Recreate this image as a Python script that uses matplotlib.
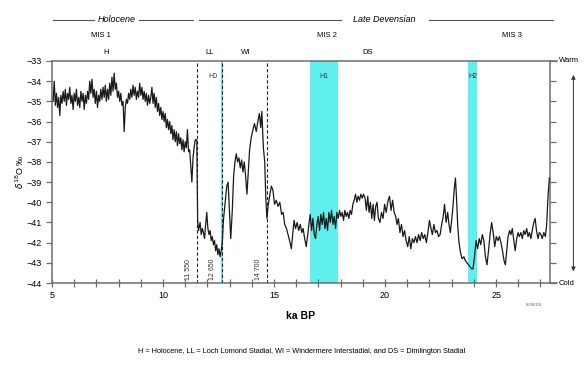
import matplotlib
matplotlib.use("Agg")
import matplotlib.pyplot as plt
import matplotlib.transforms as mtransforms

plt.rcParams['font.family'] = ['Liberation Sans', 'DejaVu Sans']

# ice-core isotope record
age_ka = [
    5.05, 5.10, 5.15, 5.20, 5.25, 5.30, 5.35, 5.40, 5.45, 5.50, 5.55, 5.60, 5.65, 5.70, 5.75, 5.80,
    5.85, 5.90, 5.95, 6.00, 6.05, 6.10, 6.15, 6.20, 6.25, 6.30, 6.35, 6.40, 6.45, 6.50, 6.55, 6.60,
    6.65, 6.70, 6.75, 6.80, 6.85, 6.90, 6.95, 7.00, 7.05, 7.10, 7.15, 7.20, 7.25, 7.30, 7.35, 7.40,
    7.45, 7.50, 7.55, 7.60, 7.65, 7.70, 7.75, 7.80, 7.85, 7.90, 7.95, 8.00, 8.05, 8.10, 8.15, 8.20,
    8.25, 8.30, 8.35, 8.40, 8.45, 8.50, 8.55, 8.60, 8.65, 8.70, 8.75, 8.80, 8.85, 8.90, 8.95, 9.00,
    9.05, 9.10, 9.15, 9.20, 9.25, 9.30, 9.35, 9.40, 9.45, 9.50, 9.55, 9.60, 9.65, 9.70, 9.75, 9.80,
    9.85, 9.90, 9.95, 10.00, 10.05, 10.10, 10.15, 10.20, 10.25, 10.30, 10.35, 10.40, 10.45, 10.50,
    10.55, 10.60, 10.65, 10.70, 10.75, 10.80, 10.85, 10.90, 10.95, 11.00, 11.05, 11.10, 11.15, 11.20,
    11.25, 11.30, 11.35, 11.40, 11.45, 11.52, 11.56, 11.60, 11.67, 11.72, 11.77, 11.82, 11.87, 11.92,
    11.97, 12.02, 12.07, 12.12, 12.17, 12.22, 12.27, 12.32, 12.37, 12.42, 12.47, 12.52, 12.57, 12.62,
    12.67, 12.72, 12.80, 12.87, 12.93, 12.99, 13.05, 13.12, 13.18, 13.24, 13.30, 13.36, 13.42, 13.48,
    13.54, 13.60, 13.66, 13.72, 13.78, 13.84, 13.90, 13.97, 14.05, 14.12, 14.20, 14.27, 14.34, 14.40,
    14.45, 14.52, 14.58, 14.63, 14.68, 14.73, 14.80, 14.88, 14.95, 15.02, 15.10, 15.18, 15.26, 15.34,
    15.41, 15.48, 15.56, 15.63, 15.70, 15.78, 15.84, 15.90, 15.97, 16.04, 16.11, 16.18, 16.25, 16.31,
    16.38, 16.45, 16.52, 16.58, 16.63, 16.69, 16.75, 16.81, 16.87, 16.93, 16.99, 17.05, 17.11, 17.17,
    17.23, 17.29, 17.35, 17.41, 17.47, 17.53, 17.59, 17.65, 17.71, 17.77, 17.83, 17.89, 17.95, 18.01,
    18.07, 18.13, 18.19, 18.25, 18.31, 18.37, 18.43, 18.49, 18.55, 18.61, 18.67, 18.73, 18.79, 18.85,
    18.91, 18.97, 19.03, 19.10, 19.16, 19.22, 19.28, 19.34, 19.40, 19.46, 19.52, 19.58, 19.64, 19.70,
    19.77, 19.84, 19.91, 19.98, 20.05, 20.12, 20.20, 20.27, 20.34, 20.41, 20.48, 20.54, 20.60, 20.67,
    20.74, 20.81, 20.88, 20.95, 21.02, 21.09, 21.16, 21.23, 21.30, 21.37, 21.44, 21.51, 21.58, 21.65,
    21.72, 21.79, 21.86, 21.93, 22.00, 22.07, 22.13, 22.20, 22.27, 22.34, 22.41, 22.48, 22.55, 22.62,
    22.68, 22.75, 22.82, 22.88, 22.94, 23.00, 23.06, 23.12, 23.17, 23.22, 23.27, 23.33, 23.40, 23.47,
    23.55, 23.62, 23.69, 23.76, 23.83, 23.90, 23.96, 24.03, 24.10, 24.17, 24.24, 24.31, 24.38, 24.45,
    24.52, 24.59, 24.66, 24.73, 24.80, 24.87, 24.94, 25.01, 25.08, 25.15, 25.22, 25.29, 25.36, 25.42,
    25.48, 25.54, 25.61, 25.67, 25.73, 25.80, 25.86, 25.93, 25.99, 26.05, 26.12, 26.18, 26.25, 26.31,
    26.38, 26.44, 26.50, 26.57, 26.63, 26.70, 26.76, 26.82, 26.89, 26.95, 27.02, 27.08, 27.15, 27.22,
    27.28, 27.34, 27.40,
]
d18o = [
    -35.0, -34.0, -35.2, -34.6, -35.3, -34.8, -35.7, -34.7, -35.1, -34.5, -35.0, -34.4, -35.2, -34.6, -34.9, -34.3,
    -35.1, -34.7, -35.4, -34.6, -35.0, -34.4, -35.2, -34.8, -35.3, -34.5, -35.0, -34.6, -35.4, -34.7, -35.1, -34.5,
    -34.9, -34.0, -34.6, -33.9, -34.8, -34.4, -35.1, -34.5, -35.3, -34.7, -35.0, -34.4, -34.9, -34.3, -34.8, -34.2,
    -35.0, -34.4, -34.9, -34.1, -34.7, -33.8, -34.5, -33.6, -34.4, -34.1, -34.8, -34.5, -35.0, -34.6, -35.2, -35.0,
    -36.5, -35.3, -34.9, -35.1, -34.6, -34.9, -34.4, -34.8, -34.2, -34.7, -34.3, -34.9, -34.5, -34.8, -34.1, -34.7,
    -34.3, -34.9, -34.5, -35.0, -34.6, -35.2, -34.7, -35.1, -34.8, -34.3, -35.1, -34.6, -35.3, -34.8, -35.5, -35.1,
    -35.7, -35.3, -35.9, -35.5, -36.0, -35.6, -36.3, -35.9, -36.4, -36.0, -36.6, -36.2, -36.9, -36.4,
    -37.0, -36.5, -37.2, -36.6, -37.1, -36.8, -37.4, -36.9, -37.5, -37.0, -37.3, -36.4, -37.5, -37.4,
    -38.2, -39.0, -37.8, -37.3, -36.9, -36.9, -40.9, -41.4, -41.0, -41.6, -41.3, -41.5, -41.8, -41.1,
    -40.5, -41.3, -41.6, -41.4, -41.9, -41.7, -42.1, -41.9, -42.4, -42.1, -42.6, -42.3, -42.7, -42.4,
    -42.0, -40.9, -40.0, -39.2, -39.0, -40.4, -41.8, -40.4, -38.7, -38.0, -37.6, -38.0, -37.8, -38.3,
    -37.9, -38.5, -38.0, -38.7, -39.6, -38.5, -37.4, -36.8, -36.4, -36.1, -36.5, -36.0, -35.6, -36.3,
    -35.5, -37.3, -38.0, -39.8, -40.8, -40.2, -39.7, -39.2, -39.4, -40.1, -39.9, -40.2, -40.0, -40.6,
    -40.5, -41.1, -41.3, -41.6, -41.9, -42.3, -41.6, -40.9, -41.3, -41.0, -41.4, -41.1, -41.5, -41.3,
    -41.8, -42.2, -41.6, -41.0, -40.6, -41.4, -40.8, -41.6, -41.8, -41.1, -40.7, -41.4, -40.6, -41.1,
    -40.5, -41.3, -40.8, -41.4, -40.5, -41.0, -40.4, -41.1, -40.7, -41.3, -40.5, -40.8, -40.4, -40.7,
    -40.5, -40.9, -40.4, -40.7, -40.5, -40.8, -40.4, -40.6, -40.1, -39.9, -39.6, -40.0, -39.7, -39.9,
    -39.6, -39.8, -39.6, -39.8, -40.4, -39.7, -40.5, -40.0, -40.8, -40.1, -40.9, -40.2, -40.0, -40.8,
    -41.0, -40.5, -40.8, -40.1, -40.5, -40.0, -39.7, -40.4, -39.9, -40.5, -40.7, -41.1, -40.8, -41.5,
    -41.1, -41.7, -41.4, -41.9, -42.2, -41.7, -42.3, -41.8, -42.0, -41.7, -42.0, -41.6, -41.9, -41.5,
    -41.8, -41.6, -42.0, -41.5, -40.9, -41.3, -41.6, -41.1, -41.5, -41.4, -41.7, -41.6, -41.1, -40.7,
    -40.1, -41.0, -40.5, -41.1, -41.5, -40.9, -40.2, -39.3, -38.8, -39.8, -41.1, -42.0, -42.5, -42.8,
    -42.7, -42.9, -43.0, -43.1, -43.2, -43.3, -43.3, -42.7, -41.9, -42.3, -41.8, -42.1, -41.6, -41.9,
    -42.7, -43.1, -42.4, -41.6, -41.0, -41.5, -42.2, -41.7, -41.9, -41.7, -42.0, -42.4, -42.9, -43.1,
    -42.4, -41.7, -41.4, -41.6, -41.3, -41.9, -42.4, -41.8, -41.5, -41.7, -41.5, -41.8, -41.4, -41.6,
    -41.3, -41.7, -41.5, -41.8, -41.4, -41.0, -40.8, -41.4, -41.8, -41.5, -41.6, -41.8, -41.5, -41.7,
    -41.1, -39.7, -38.8,
]

# Heinrich events (cyan bands) and dated boundaries (dashed lines)
heinrich_names = ['H0', 'H1', 'H2']
heinrich_start = [12.60, 16.62, 23.72]
heinrich_end = [12.72, 17.90, 24.15]
heinrich_label_x = [12.25, 17.26, 23.94]
boundary_ages = [11.55, 12.65, 14.70]
boundary_labels = ['11 550', '12 650', '14 700']

stage_labels = ['H', 'LL', 'WI', 'DS']
stage_pos = [7.45, 12.10, 13.70, 19.20]
mis_labels = ['MIS 1', 'MIS 2', 'MIS 3']
mis_pos = [7.20, 17.40, 25.70]

fig = plt.figure(figsize=(5.87, 3.74), dpi=100)
ax = fig.add_axes([0.0886, 0.2433, 0.8484, 0.5936])

spine_col = '#6e6e6e'
cyan = '#5ff0ee'

for name, a, b, lx in zip(heinrich_names, heinrich_start, heinrich_end, heinrich_label_x):
    ax.axvspan(a, b, color=cyan, lw=0, zorder=1)
    ax.text(lx, -33.75, name, fontsize=5, ha='center', va='center', color='#333333', zorder=4)

for x, lab in zip(boundary_ages, boundary_labels):
    ax.axvline(x, color='#222222', lw=0.8, ls=(0, (3, 2)), zorder=2)
    ax.text(x - 0.42, -43.85, lab, rotation=90, fontsize=5, ha='center', va='bottom', color='#333333')

ax.plot(age_ka, d18o, color='#1a1a1a', lw=0.9, zorder=3)

ax.set_xlim(5, 27.43)
ax.set_ylim(-44, -33)
ax.set_xticks([5, 10, 15, 20, 25])
ax.set_xticks(range(6, 28), minor=True)
ax.set_yticks(range(-44, -32))
ax.tick_params(axis='x', direction='inout', length=6, width=0.9, color=spine_col, labelsize=6.5, pad=3)
ax.tick_params(axis='x', which='minor', direction='inout', length=6, width=0.9, color=spine_col)
ax.tick_params(axis='y', direction='out', length=4, width=0.9, color=spine_col, labelsize=6.5,
               right=True, labelright=False)
for s in ax.spines.values():
    s.set_color(spine_col)
    s.set_linewidth(1.1)

ax.set_xlabel('ka BP', fontsize=7.5, fontweight='bold', labelpad=8)
ax.set_ylabel(r'$\delta^{18}$O ‰', fontsize=6.5, labelpad=0)

# header rows above the axes
trans = mtransforms.blended_transform_factory(ax.transData, ax.transAxes)
head_y = 1.185
ax.plot([5.05, 6.9], [head_y, head_y], color='#555555', lw=0.8, transform=trans, clip_on=False)
ax.plot([8.9, 11.35], [head_y, head_y], color='#555555', lw=0.8, transform=trans, clip_on=False)
ax.text(7.9, head_y, 'Holocene', style='italic', fontsize=6.5, ha='center', va='center', transform=trans)
ax.plot([11.6, 18.0], [head_y, head_y], color='#555555', lw=0.8, transform=trans, clip_on=False)
ax.plot([22.0, 27.55], [head_y, head_y], color='#555555', lw=0.8, transform=trans, clip_on=False)
ax.text(19.95, head_y, 'Late Devensian', style='italic', fontsize=6.5, ha='center', va='center', transform=trans)
for lab, x in zip(mis_labels, mis_pos):
    ax.text(x, 1.115, lab, fontsize=5.5, ha='center', va='center', transform=trans)
for lab, x in zip(stage_labels, stage_pos):
    ax.text(x, 1.04, lab, fontsize=5.5, ha='center', va='center', transform=trans)

# warm / cold scale on the right
ax.plot([1.0, 1.014], [1.0, 1.0], color=spine_col, lw=1.1, transform=ax.transAxes, clip_on=False)
ax.plot([1.0, 1.014], [0.0, 0.0], color=spine_col, lw=1.1, transform=ax.transAxes, clip_on=False)
ax.text(1.017, 1.0, 'Warm', fontsize=5.5, ha='left', va='center', transform=ax.transAxes)
ax.text(1.017, 0.0, 'Cold', fontsize=5.5, ha='left', va='center', transform=ax.transAxes)
ax.annotate('', xy=(1.047, 0.95), xytext=(1.047, 0.04), xycoords='axes fraction',
            arrowprops=dict(arrowstyle='<|-|>', color='#333333', lw=0.7, mutation_scale=6))

ax.text(0.985, -0.09, 'ISO/R/101', fontsize=2.5, ha='right', va='top', color='#555555', transform=ax.transAxes)
fig.text(0.513, 0.059, 'H = Holocene, LL = Loch Lomond Stadial, WI = Windermere Interstadial, and DS = Dimlington Stadial',
         fontsize=5.3, ha='center', va='center')

fig.savefig('out.png', dpi=100)
